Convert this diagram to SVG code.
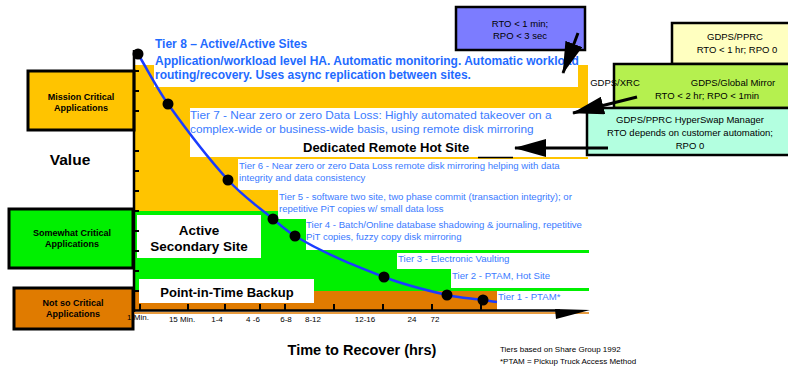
<svg xmlns="http://www.w3.org/2000/svg" width="788" height="369" viewBox="0 0 788 369">
  <defs>
    <marker id="head" viewBox="0 0 32 18" refX="31" refY="9" markerWidth="32" markerHeight="18" markerUnits="userSpaceOnUse" orient="auto">
      <path d="M0,0 L32,9 L0,18 Z" fill="#000"/>
    </marker>
    <style>
      text { font-family: "Liberation Sans", Arial, sans-serif; }
      .lab { font-size: 9px; font-weight: bold; fill: #000; text-anchor: middle; }
      .cat { stroke: #000; stroke-width: 3; }
      .gdps { stroke: #000; stroke-width: 2.5; }
      .gt { font-size: 9.5px; fill: #000; text-anchor: middle; }
      .tier { font-size: 9.6px; fill: #3b7bff; }
      .tier7 { font-size: 11.8px; fill: #3b7bff; }
      .tier8 { font-size: 12px; font-weight: bold; fill: #1f6bff; }
      .big { font-weight: bold; fill: #000; }
      .box { fill: #fff; }
      .tick { stroke: #000; stroke-width: 2; }
      .xl { font-size: 8px; fill: #000; text-anchor: middle; }
      .dot { fill: #000; }
      .conn { stroke: #000; stroke-width: 3; fill: none; marker-end: url(#head); }
    </style>
  </defs>

  <rect width="788" height="369" fill="#fff"/>

  <!-- value bands -->
  <g id="bands">
    <rect x="134" y="65" width="454" height="147" fill="#ffc400"/>
    <rect x="134" y="211" width="455" height="80" fill="#00f000"/>
    <rect x="134" y="291" width="363" height="20" fill="#e07b00"/>
  </g>

  <!-- tier descriptions -->
  <g id="tier8">
    <rect class="box" x="154" y="33" width="424" height="54"/>
    <text class="tier8" x="155" y="48">Tier 8 – Active/Active Sites</text>
    <text class="tier8" x="155" y="65">Application/workload level HA. Automatic monitoring. Automatic workload</text>
    <text class="tier8" x="155" y="79">routing/recovery. Uses async replication between sites.</text>
  </g>
  <g id="tier7">
    <rect class="box" x="190" y="108" width="398" height="49"/>
    <text class="tier7" x="190" y="119">Tier 7 - Near zero or zero Data Loss: Highly automated takeover on a</text>
    <text class="tier7" x="190" y="133">complex-wide or business-wide basis, using remote disk mirroring</text>
    <text class="big" x="303" y="152" font-size="13">Dedicated Remote Hot Site</text>
  </g>
  <g id="tier6">
    <rect class="box" x="238" y="159" width="351" height="31"/>
    <text class="tier" x="239" y="169">Tier 6 - Near zero or zero Data Loss remote disk mirroring helping with data</text>
    <text class="tier" x="239" y="181">integrity and data consistency</text>
  </g>
  <g id="tier5">
    <rect class="box" x="278" y="190" width="311" height="29"/>
    <text class="tier" x="279" y="200">Tier 5 - software two site, two phase commit (transaction integrity); or</text>
    <text class="tier" x="279" y="212">repetitive PiT copies w/ small data loss</text>
  </g>
  <g id="tier4">
    <rect class="box" x="306" y="219" width="283" height="31"/>
    <text class="tier" x="306" y="228">Tier 4 - Batch/Online database shadowing &amp; journaling, repetitive</text>
    <text class="tier" x="306" y="240">PiT copies, fuzzy copy disk mirroring</text>
  </g>
  <g id="tier3">
    <rect class="box" x="397" y="253" width="192" height="16"/>
    <text class="tier" x="398" y="262">Tier 3 - Electronic Vaulting</text>
  </g>
  <g id="tier2">
    <rect class="box" x="451" y="269" width="138" height="19"/>
    <text class="tier" x="452" y="279">Tier 2 - PTAM, Hot Site</text>
  </g>
  <g id="tier1">
    <rect class="box" x="497" y="291" width="92" height="17"/>
    <text class="tier" x="498" y="300">Tier 1 - PTAM*</text>
  </g>
  <g id="active-secondary">
    <rect class="box" x="137" y="215" width="124" height="43"/>
    <text class="big" x="199" y="235" font-size="13.5" text-anchor="middle">Active</text>
    <text class="big" x="199" y="251" font-size="13.5" text-anchor="middle">Secondary Site</text>
  </g>
  <g id="pit-backup">
    <rect class="box" x="139" y="279" width="175" height="24"/>
    <text class="big" x="227" y="297" font-size="13" text-anchor="middle">Point-in-Time Backup</text>
  </g>
  <line x1="478" y1="157.5" x2="513" y2="157.5" stroke="#000" stroke-width="1.5"/>

  <!-- application categories -->
  <g id="mission-critical">
    <rect class="cat" x="28" y="71" width="106" height="59" fill="#ffc400"/>
    <text class="lab" x="81" y="100">Mission Critical</text>
    <text class="lab" x="81" y="111">Applications</text>
  </g>
  <text id="value" x="70" y="165" font-size="15.5" font-weight="bold" text-anchor="middle">Value</text>
  <g id="somewhat-critical">
    <rect class="cat" x="9" y="209" width="124" height="59" fill="#00f000"/>
    <text class="lab" x="72" y="236">Somewhat Critical</text>
    <text class="lab" x="72" y="247">Applications</text>
  </g>
  <g id="not-so-critical">
    <rect class="cat" x="14" y="288" width="119" height="41" fill="#e07b00"/>
    <text class="lab" x="73" y="306">Not so Critical</text>
    <text class="lab" x="73" y="317">Applications</text>
  </g>

  <!-- axes -->
  <g id="axes">
    <line x1="134" y1="50" x2="134" y2="312" stroke="#000" stroke-width="2.5"/>
    <line x1="134" y1="313" x2="589" y2="313" stroke="#e07b00" stroke-width="1.5"/>
    <line x1="133" y1="310.5" x2="560" y2="310.5" stroke="#000" stroke-width="2.5"/>
    <polygon points="555,309 590,310 556,319" fill="#000"/>
    <g class="tick">
      <line x1="134" y1="71" x2="139" y2="71"/>
      <line x1="134" y1="91" x2="139" y2="91"/>
      <line x1="134" y1="111" x2="139" y2="111"/>
      <line x1="134" y1="151" x2="139" y2="151"/>
      <line x1="134" y1="171" x2="139" y2="171"/>
      <line x1="134" y1="191" x2="139" y2="191"/>
      <line x1="134" y1="211" x2="139" y2="211"/>
      <line x1="134" y1="231" x2="139" y2="231"/>
      <line x1="134" y1="251" x2="139" y2="251"/>
      <line x1="134" y1="271" x2="139" y2="271"/>
      <line x1="134" y1="291" x2="139" y2="291"/>
      <line x1="140" y1="304" x2="140" y2="311"/>
      <line x1="188" y1="304" x2="188" y2="311"/>
      <line x1="225" y1="304" x2="225" y2="311"/>
      <line x1="260" y1="304" x2="260" y2="311"/>
      <line x1="285" y1="304" x2="285" y2="311"/>
      <line x1="334" y1="304" x2="334" y2="311"/>
      <line x1="383" y1="304" x2="383" y2="311"/>
      <line x1="432" y1="304" x2="432" y2="311"/>
      <line x1="481" y1="304" x2="481" y2="311"/>
    </g>
    <text class="xl" x="138" y="320">1 Min.</text>
    <text class="xl" x="182" y="322">15 Min.</text>
    <text class="xl" x="217" y="322">1-4</text>
    <text class="xl" x="253" y="322">4 -6</text>
    <text class="xl" x="286" y="322">6-8</text>
    <text class="xl" x="313" y="322">8-12</text>
    <text class="xl" x="365" y="322">12-16</text>
    <text class="xl" x="412" y="322">24</text>
    <text class="xl" x="435" y="322">72</text>
    <text x="362" y="355" font-size="14.5" font-weight="bold" text-anchor="middle">Time to Recover (hrs)</text>
  </g>

  <!-- recovery curve -->
  <g id="curve">
    <path d="M138,54 C148,70.7 158,90 168,104 C188,132 208,158.1 228,180 C243,196.4 258,206.5 273,219 C280.3,225.1 287.7,231.6 295,236 C324.7,253.8 354.3,265.4 384,277 C405,285.2 426,290.2 447,295 C459,297.8 471,298.3 483,300 C487.7,300.7 492.3,301.5 497,302" fill="none" stroke="#1a3cff" stroke-width="2.5"/>
    <circle class="dot" cx="138" cy="54" r="5.5"/>
    <circle class="dot" cx="168" cy="104" r="5.5"/>
    <circle class="dot" cx="228" cy="180" r="5.5"/>
    <circle class="dot" cx="273" cy="219" r="5.5"/>
    <circle class="dot" cx="295" cy="236" r="5.5"/>
    <circle class="dot" cx="384" cy="277" r="5.5"/>
    <circle class="dot" cx="447" cy="295" r="5.5"/>
    <circle class="dot" cx="483" cy="300" r="5.5"/>
  </g>

  <!-- GDPS offerings -->
  <g id="rto-1min">
    <rect class="gdps" x="456" y="7" width="129" height="43" fill="#7c7cff"/>
    <text class="gt" x="520" y="27">RTO &lt; 1 min;</text>
    <text class="gt" x="520" y="39">RPO &lt; 3 sec</text>
  </g>
  <g id="gdps-pprc">
    <rect class="gdps" x="672" y="23" width="120" height="41" fill="#ffffc0"/>
    <text class="gt" x="735" y="40">GDPS/PPRC</text>
    <text class="gt" x="737" y="53">RTO &lt; 1 hr; RPO 0</text>
  </g>
  <g id="gdps-xrc">
    <rect class="gdps" x="614" y="64" width="178" height="44" fill="#b5f04f"/>
    <text class="gt" x="615" y="86" text-anchor="start">GDPS/XRC</text>
    <text class="gt" x="733" y="86">GDPS/Global Mirror</text>
    <text class="gt" x="707" y="99">RTO &lt; 2 hr; RPO &lt; 1min</text>
  </g>
  <g id="gdps-hyperswap">
    <rect class="gdps" x="587" y="108" width="205" height="47" fill="#b3ffe0"/>
    <text class="gt" x="690" y="123">GDPS/PPRC HyperSwap Manager</text>
    <text class="gt" x="690" y="136">RTO depends on customer automation;</text>
    <text class="gt" x="690" y="149">RPO 0</text>
  </g>

  <!-- connectors -->
  <g id="connectors">
    <line class="conn" x1="578" y1="33" x2="563" y2="73"/>
    <line class="conn" x1="637" y1="97" x2="573" y2="113"/>
    <line class="conn" x1="608" y1="148" x2="515" y2="148"/>
  </g>

  <!-- source note -->
  <text x="500" y="352" font-size="8">Tiers based on Share Group 1992</text>
  <text x="500" y="364" font-size="8">*PTAM = Pickup Truck Access Method</text>
</svg>
